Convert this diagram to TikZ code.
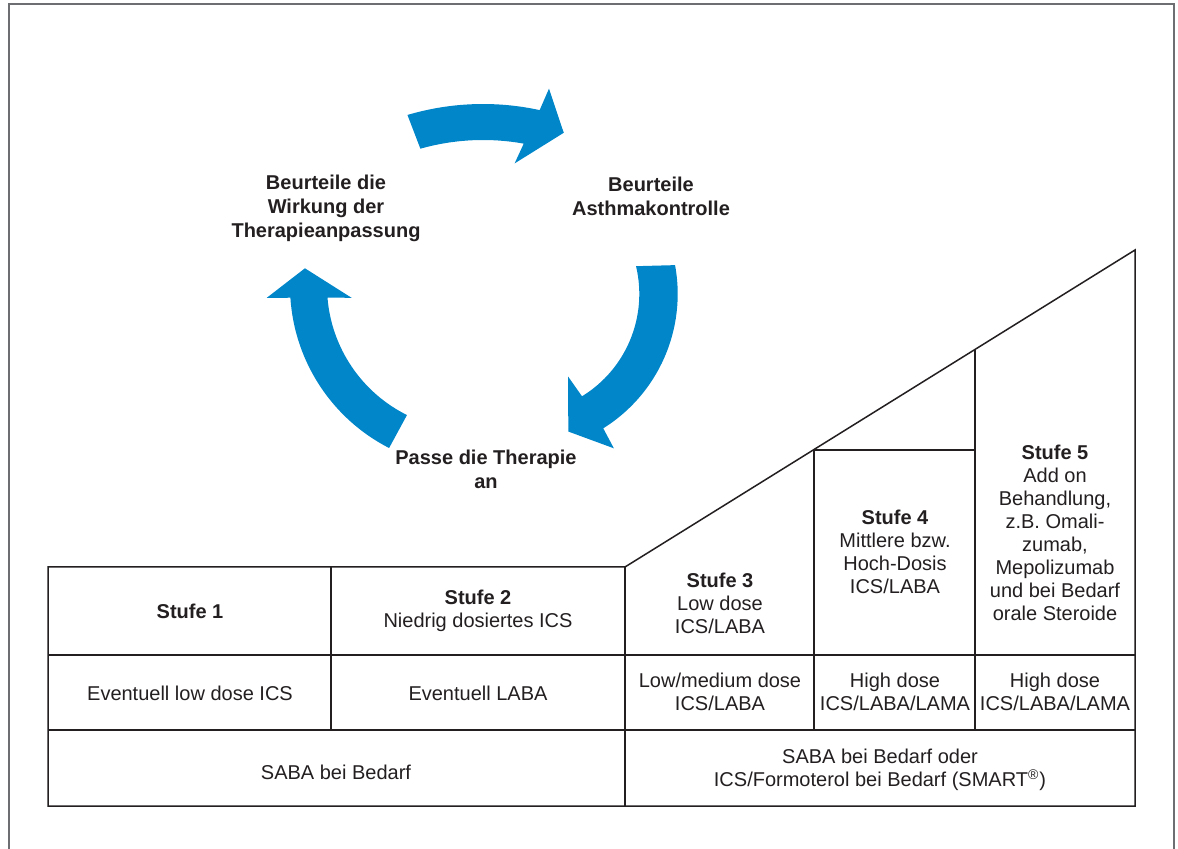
\documentclass[tikz,border=0pt]{standalone}
\usepackage{fontspec}
\setmainfont{Liberation Sans}
\definecolor{pfeilblau}{HTML}{0086C9}
\definecolor{tinte}{HTML}{231F20}
\definecolor{rahmengrau}{HTML}{6D6E71}
\tikzset{
  pfeil/.style={fill=pfeilblau},
  zyklus/.style={font=\bfseries\fontsize{10}{12}\selectfont, align=center, text=tinte, inner sep=0pt},
  zelle/.style={font=\fontsize{10}{11.5}\selectfont, align=center, text=tinte, inner sep=0pt},
  linie/.style={draw=tinte, line width=0.75pt},
}

\begin{document}
\begin{tikzpicture}[x=0.5pt, y=-0.5pt]
\useasboundingbox (0,0) rectangle (1178,849);
\draw[rahmengrau, line width=1pt] (9,870) -- (9,4) -- (1174,4) -- (1174,870);

% Kreislauf
\begin{scope}[shift={(483,370)}]
  \fill[pfeil] (-106.5:266) arc[start angle=-106.5, end angle=-77.7, radius=266]
    -- (-76.8:289) -- (-71.2:250.6) -- (-81.3:209) -- (-79.8:230)
    arc[start angle=-79.8, end angle=-105.8, radius=230] -- cycle;
\end{scope}
\begin{scope}[shift={(519.3,294)}]
  \fill[pfeil] (-10.5:158.4) arc[start angle=-10.5, end angle=58, radius=158.4]
    -- (58.5:181) -- (70.4:146) -- (59.4:96) -- (58.5:120)
    arc[start angle=58.5, end angle=-13.4, radius=120] -- cycle;
\end{scope}
\begin{scope}[shift={(472,286)}]
  \fill[pfeil] (117.1:182) arc[start angle=117.1, end angle=176.3, radius=182]
    -- (176.7:205.6) -- (186.05:168) -- (174.4:121) -- (175.4:145)
    arc[start angle=175.4, end angle=116.4, radius=144] -- cycle;
\end{scope}

\node[zyklus] (wirkung) at (326,208) {Beurteile die\\Wirkung der\\Therapieanpassung};
\node[zyklus] (kontrolle) at (651,196) {Beurteile\\Asthmakontrolle};
\node[zyklus] (anpassen) at (486,469) {Passe die Therapie\\an};

% Stufenschema
\draw[linie] (48,806) -- (48,567) -- (625,567) -- (1135,250) -- (1135,806) -- cycle;
\draw[linie] (48,655) -- (1135,655);
\draw[linie] (48,730) -- (1135,730);
\draw[linie] (331,567) -- (331,730);
\draw[linie] (625,567) -- (625,806);
\draw[linie] (814,450) -- (814,730);
\draw[linie] (975,350) -- (975,730);
\draw[linie] (814,450) -- (975,450);

\node[zelle] (stufe1) at (190,611) {\textbf{Stufe 1}};
\node[zelle] (stufe2) at (478,611) {\textbf{Stufe 2}\\Niedrig dosiertes ICS};
\node[zelle] (stufe3) at (720,603) {\textbf{Stufe 3}\\Low dose\\ICS/LABA};
\node[zelle] (stufe4) at (895,552) {\textbf{Stufe 4}\\Mittlere bzw.\\Hoch-Dosis\\ICS/LABA};
\node[zelle] (stufe5) at (1055,533) {\textbf{Stufe 5}\\Add on\\Behandlung,\\z.B. Omali-\\zumab,\\Mepolizumab\\und bei Bedarf\\orale Steroide};

\node[zelle] (option1) at (190,693) {Eventuell low dose ICS};
\node[zelle] (option2) at (478,693) {Eventuell LABA};
\node[zelle] (option3) at (720,692) {Low/medium dose\\ICS/LABA};
\node[zelle] (option4) at (895,692) {High dose\\ICS/LABA/LAMA};
\node[zelle] (option5) at (1055,692) {High dose\\ICS/LABA/LAMA};

\node[zelle] (bedarf1) at (336,772) {SABA bei Bedarf};
\node[zelle] (bedarf2) at (880,770) {SABA bei Bedarf oder\\ICS/Formoterol bei Bedarf (SMART\textsuperscript{®})};
\end{tikzpicture}
\end{document}
